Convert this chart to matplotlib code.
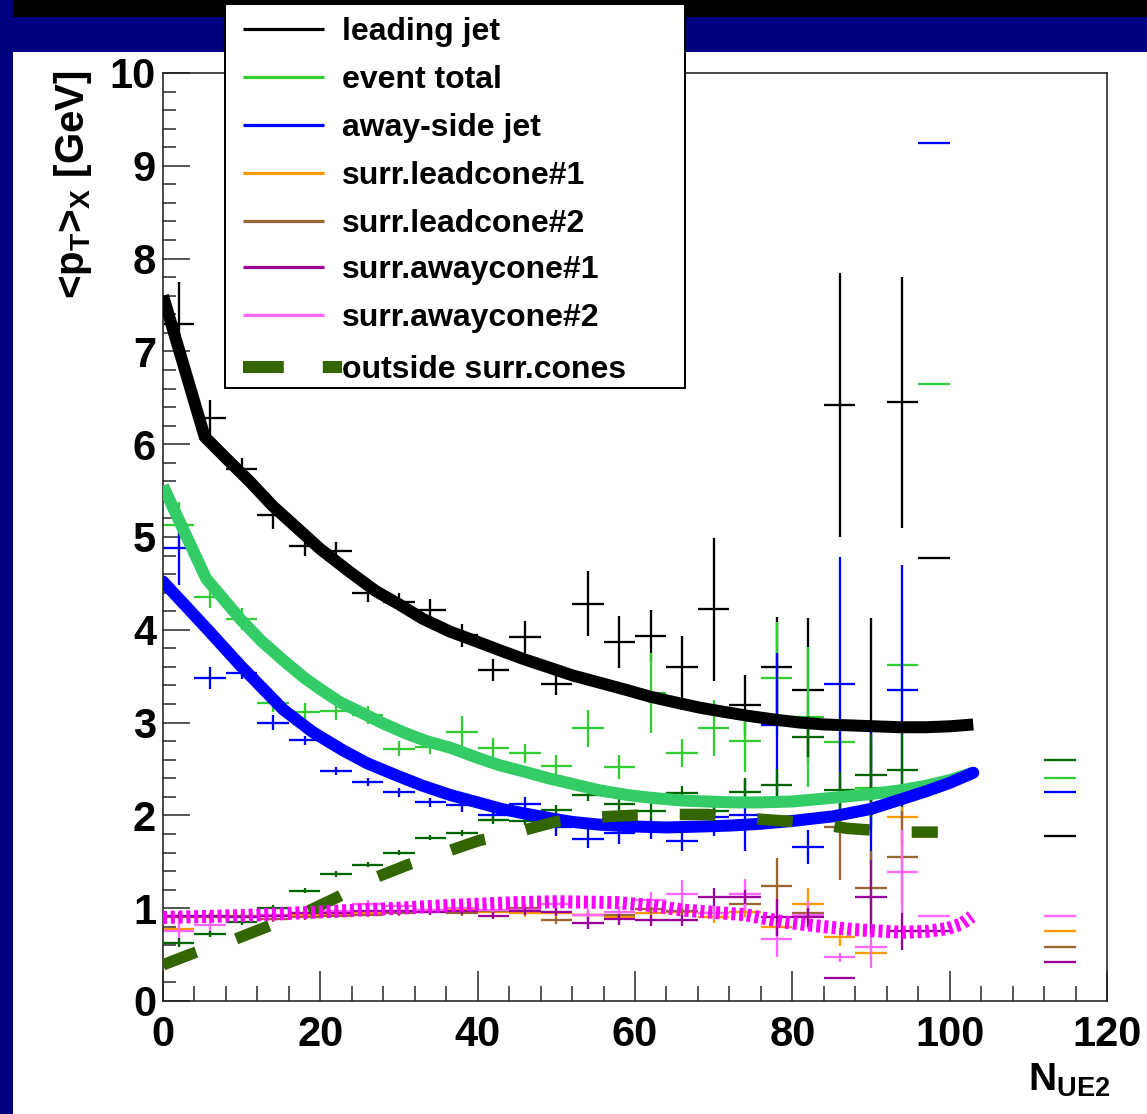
import numpy as np
import matplotlib
matplotlib.use("Agg")
import matplotlib.pyplot as plt
from matplotlib.ticker import MultipleLocator, FixedLocator
from matplotlib.patches import Rectangle

# ---------------- data ----------------
x_centers = [2, 6, 10, 14, 18, 22, 26, 30, 34, 38, 42, 46, 50, 54, 58, 62, 66, 70,
             74, 78, 82, 86, 90, 94, 98, 114]
bin_half = 2

nan = float("nan")
leading_y = [7.3, 6.28, 5.73, 5.24, 4.9, 4.85, 4.4, 4.3, 4.21, 3.94, 3.57, 3.92, 3.42,
             4.28, 3.87, 3.93, 3.6, 4.22, 3.19, 3.6, 3.35, 6.42, 3.0, 6.45, 4.77, 1.78]
leading_e = [0.45, 0.2, 0.12, 0.15, 0.1, 0.1, 0.1, 0.1, 0.12, 0.12, 0.12, 0.17, 0.12,
             0.35, 0.28, 0.28, 0.33, 0.77, 0.32, 0.54, 0.78, 1.42, 1.13, 1.35, 0, 0]

total_y = [5.13, 4.35, 4.12, 3.21, 3.11, 3.13, 3.08, 2.72, 2.74, 2.9, 2.73, 2.67, 2.53,
           2.94, 2.52, 3.32, 2.67, 2.94, 2.8, 3.48, 3.06, 2.79, 2.3, 3.62, 6.65, 2.4]
total_e = [0.25, 0.12, 0.12, 0.1, 0.1, 0.1, 0.1, 0.08, 0.08, 0.17, 0.1, 0.1, 0.12,
           0.2, 0.13, 0.43, 0.15, 0.3, 0.33, 0.6, 0.75, 0.3, 0.5, 0.7, 0, 0]

away_y = [4.88, 3.48, 3.53, 3.0, 2.81, 2.48, 2.36, 2.25, 2.14, 2.11, 2.0, 2.12, 1.88,
          1.75, 1.81, 1.85, 1.72, 1.98, 2.0, 2.97, 1.66, 3.42, 2.25, 3.35, 9.25, 2.25]
away_e = [0.4, 0.12, 0.06, 0.08, 0.05, 0.04, 0.04, 0.05, 0.05, 0.07, 0.06, 0.08, 0.1,
          0.1, 0.12, 0.1, 0.1, 0.2, 0.38, 0.78, 0.18, 1.36, 0.73, 1.35, 0, 0]

lead1_y = [0.78, 0.9, 0.92, 0.92, 0.93, 0.93, 0.95, 0.96, 0.98, 0.98, 0.96, 0.95, 0.95,
           0.93, 0.9, 0.95, 0.96, 0.9, 0.96, 0.8, 1.05, 0.69, 0.52, 1.98, nan, 0.75]
lead1_e = [0.04, 0.03, 0.03, 0.03, 0.03, 0.03, 0.03, 0.03, 0.03, 0.03, 0.03, 0.04, 0.04,
           0.04, 0.05, 0.05, 0.05, 0.06, 0.06, 0.1, 0.17, 0.1, 0.1, 0.3, 0, 0]

lead2_y = [0.9, 0.9, 0.92, 0.88, 0.9, 0.92, 0.93, 0.95, 0.97, 0.95, 0.97, 1.0, 0.87,
           0.93, 0.93, 0.99, 0.97, 0.95, 1.04, 1.24, 0.95, 1.88, 1.22, 1.55, nan, 0.58]
lead2_e = [0.04, 0.03, 0.03, 0.03, 0.03, 0.03, 0.03, 0.03, 0.03, 0.03, 0.03, 0.04, 0.04,
           0.04, 0.05, 0.05, 0.05, 0.06, 0.06, 0.3, 0.1, 0.58, 0.4, 0.5, 0, 0]

away1_y = [0.92, 0.92, 0.9, 0.92, 0.95, 0.95, 0.97, 0.97, 0.96, 0.97, 0.92, 0.97, 0.96,
           0.84, 0.88, 0.87, 0.87, 1.12, 1.12, 0.9, 0.9, 0.25, 1.12, 0.75, 0.75, 0.42]
away1_e = [0.04, 0.03, 0.03, 0.03, 0.03, 0.03, 0.03, 0.03, 0.03, 0.03, 0.04, 0.04, 0.04,
           0.06, 0.06, 0.06, 0.06, 0.1, 0.08, 0.2, 0.1, 0, 0.4, 0.2, 0, 0]

away2_y = [0.75, 0.82, 0.9, 0.93, 0.95, 0.97, 1.05, 1.02, 0.98, 1.0, 0.98, 0.98, 1.05,
           0.93, 0.96, 1.09, 1.15, 0.95, 1.15, 0.67, 0.93, 0.47, 0.58, 1.39, 0.92, 0.92]
away2_e = [0.16, 0.08, 0.05, 0.04, 0.04, 0.04, 0.04, 0.04, 0.04, 0.04, 0.05, 0.05, 0.05,
           0.06, 0.06, 0.08, 0.15, 0.08, 0.17, 0.2, 0.15, 0.05, 0.22, 0.45, 0, 0]

outside_y = [0.63, 0.72, 0.85, 1.0, 1.19, 1.37, 1.47, 1.6, 1.76, 1.81, 1.95, 1.94, 2.06,
             2.22, 2.12, 2.05, 2.24, 2.05, 2.25, 2.33, 2.85, 2.27, 2.43, 2.49, nan, 2.6]
outside_e = [0.05, 0.03, 0.03, 0.03, 0.03, 0.03, 0.03, 0.03, 0.03, 0.03, 0.04, 0.04, 0.05,
             0.07, 0.08, 0.1, 0.08, 0.15, 0.15, 0.17, 0.22, 0.2, 0.45, 0.4, 0, 0]

# fitted curves
fit_lead_x = [0, 5.3, 8, 11, 14, 17.4, 20, 23.8, 27, 30.1, 33, 36.5, 40, 42.8, 46, 49.2,
              52, 55.5, 59, 61.9, 65, 68.3, 71, 74.6, 78, 81, 84, 87.3, 90.5, 93.7, 97,
              100, 103]
fit_lead_y = [7.6, 6.08, 5.85, 5.6, 5.33, 5.07, 4.87, 4.62, 4.42, 4.27, 4.12, 3.98, 3.87,
              3.78, 3.68, 3.59, 3.51, 3.43, 3.35, 3.28, 3.22, 3.16, 3.12, 3.07, 3.03, 3.0,
              2.98, 2.97, 2.96, 2.95, 2.95, 2.96, 2.98]

fit_total_x = [0, 5.5, 8, 10, 12.5, 15.3, 18, 20, 22.5, 25.4, 28, 31, 33.5, 36.5, 40,
               42.8, 46, 49, 52, 55.5, 59, 62, 66, 69, 72.5, 76, 80, 85.2, 90, 93.7, 97,
               100, 103]
fit_total_y = [5.55, 4.55, 4.3, 4.1, 3.88, 3.67, 3.48, 3.36, 3.22, 3.1, 2.99, 2.88, 2.8,
               2.73, 2.62, 2.54, 2.47, 2.4, 2.34, 2.27, 2.22, 2.19, 2.16, 2.15, 2.14, 2.14,
               2.15, 2.19, 2.23, 2.27, 2.32, 2.38, 2.46]

fit_away_x = [0, 5.7, 10, 15.3, 19, 22.9, 26, 30, 33, 36.5, 40, 43, 46, 49.2, 52, 55.5,
              60, 64, 68.3, 72, 76, 80, 85.2, 90, 93.7, 97, 100, 103]
fit_away_y = [4.52, 4.0, 3.6, 3.14, 2.9, 2.7, 2.56, 2.42, 2.32, 2.22, 2.14, 2.07, 2.02,
              1.97, 1.93, 1.9, 1.88, 1.87, 1.88, 1.89, 1.91, 1.94, 1.99, 2.07, 2.17, 2.26,
              2.35, 2.46]

fit_out_x = [0, 4, 9, 13.2, 18, 22.2, 27, 31.2, 35.7, 40.2, 45, 49.8, 54.7, 59.6, 64.5,
             69.3, 72.4, 77.3, 82.4, 87, 93.7, 98.5]
fit_out_y = [0.39, 0.52, 0.66, 0.8, 0.95, 1.12, 1.33, 1.47, 1.6, 1.73, 1.82, 1.93, 1.98,
             2.0, 2.01, 2.01, 1.98, 1.95, 1.92, 1.86, 1.82, 1.82]

fit_aw2_x = [0, 10, 20, 30, 36.5, 45, 50, 57.7, 62, 66, 70.8, 74, 79, 83, 87.7, 94, 97,
             99.7, 101.5, 102.8]
fit_aw2_y = [0.9, 0.92, 0.96, 1.0, 1.03, 1.06, 1.07, 1.06, 1.03, 0.98, 0.95, 0.93, 0.85,
             0.81, 0.77, 0.74, 0.75, 0.78, 0.83, 0.91]

legend_labels = ["leading jet", "event total", "away-side jet", "surr.leadcone#1",
                 "surr.leadcone#2", "surr.awaycone#1", "surr.awaycone#2",
                 "outside surr.cones"]
legend_colors = ["#000000", "#33cc33", "#0000ff", "#ff9900", "#996633", "#990099",
                 "#ff66ff", "#336600"]

x_ticks = [0, 20, 40, 60, 80, 100, 120]
y_ticks = [0, 1, 2, 3, 4, 5, 6, 7, 8, 9, 10]

# ---------------- style ----------------
plt.rcParams["font.family"] = ["Liberation Sans", "DejaVu Sans"]
plt.rcParams["font.weight"] = "bold"
plt.rcParams["mathtext.fontset"] = "custom"
plt.rcParams["mathtext.rm"] = "Liberation Sans:bold"
plt.rcParams["mathtext.it"] = "Liberation Sans:bold"
plt.rcParams["mathtext.bf"] = "Liberation Sans:bold"
plt.rcParams["mathtext.sf"] = "Liberation Sans:bold"
plt.rcParams["mathtext.default"] = "rm"

W, H = 1147, 1114
fig = plt.figure(figsize=(W / 100, H / 100), dpi=100, facecolor="white")
PX = 0.72  # points per pixel


def fx(px):
    return px / W


def fy(py):
    return 1 - py / H


# background frame (navy slide background)
fig.patches.append(Rectangle((0, fy(52)), 1, fy(17) - fy(52), transform=fig.transFigure,
                             facecolor="#000080", edgecolor="none", zorder=0))
fig.patches.append(Rectangle((0, fy(17)), 1, 1 - fy(17), transform=fig.transFigure,
                             facecolor="#000000", edgecolor="none", zorder=0))
fig.patches.append(Rectangle((0, 0), fx(12.5), 1, transform=fig.transFigure,
                             facecolor="#000080", edgecolor="none", zorder=0))

ax = fig.add_axes([fx(163), fy(1001), fx(1107) - fx(163), fy(73) - fy(1001)])
ax.set_facecolor("white")
ax.set_xlim(0, 120)
ax.set_ylim(0, 10)

xc = np.array(x_centers, dtype=float)
series = [
    (leading_y, leading_e, "#000000"),
    (total_y, total_e, "#33cc33"),
    (away_y, away_e, "#0000ff"),
    (lead1_y, lead1_e, "#ff9900"),
    (lead2_y, lead2_e, "#996633"),
    (away2_y, away2_e, "#ff66ff"),
    (away1_y, away1_e, "#990099"),
    (outside_y, outside_e, "#006600"),
]
for i, (yv, ev, col) in enumerate(series):
    ax.errorbar(xc, np.array(yv, dtype=float), xerr=bin_half,
                yerr=np.array(ev, dtype=float), fmt="none", ecolor=col,
                elinewidth=2.3 * PX, capsize=0, zorder=2 + i * 0.1)

# fit curves
ax.plot(fit_lead_x, fit_lead_y, color="#000000", lw=12 * PX, solid_capstyle="butt",
        zorder=5)
ax.plot(fit_total_x, fit_total_y, color="#33cc66", lw=12 * PX, solid_capstyle="butt",
        zorder=6)
ax.plot(fit_away_x, fit_away_y, color="#0000ff", lw=12 * PX, solid_capstyle="round",
        zorder=7)
ax.plot(fit_out_x, fit_out_y, color="#336600", lw=11.5 * PX, linestyle=(0, (3.1, 3.65)),
        dash_capstyle="butt", zorder=8)
ax.plot(fit_aw2_x, fit_aw2_y, color="#ff00ff", lw=13 * PX, linestyle=(0, (0.31, 0.29)),
        dash_capstyle="butt", zorder=9)

# axes styling (ROOT like)
for s in ax.spines.values():
    s.set_color("#222222")
    s.set_linewidth(1.6 * PX)
ax.xaxis.set_major_locator(FixedLocator(x_ticks))
ax.xaxis.set_minor_locator(MultipleLocator(4))
ax.yaxis.set_major_locator(FixedLocator(y_ticks))
ax.yaxis.set_minor_locator(MultipleLocator(0.2))
ax.set_xticklabels([str(t) for t in x_ticks])
ax.set_yticklabels([str(t) for t in y_ticks])
ax.tick_params(axis="x", which="major", direction="in", length=30 * PX, width=1.5 * PX,
               color="#222222", labelsize=30, pad=10, top=False)
ax.tick_params(axis="x", which="minor", direction="in", length=15 * PX, width=1.5 * PX,
               color="#222222", top=False)
ax.tick_params(axis="y", which="major", direction="in", length=27 * PX, width=1.5 * PX,
               color="#222222", labelsize=30, pad=5, right=False)
ax.tick_params(axis="y", which="minor", direction="in", length=13 * PX, width=1.5 * PX,
               color="#222222", right=False)
for lab in ax.get_xticklabels() + ax.get_yticklabels():
    lab.set_fontweight("bold")

# axis titles
fig.text(fx(73), fy(70), r"<p$_{T}$>$_{X}$ [GeV]", rotation=90, ha="center", va="top",
         fontsize=29, fontweight="bold", color="black")
fig.text(fx(1110), fy(1062), r"N$_{UE2}$", ha="right", va="top", fontsize=28,
         fontweight="bold", color="black")

# legend box
lx0, ly0, lx1, ly1 = 225, 4, 685, 388
lax = fig.add_axes([fx(lx0), fy(ly1), fx(lx1) - fx(lx0), fy(ly0) - fy(ly1)], zorder=20)
lax.set_xlim(0, lx1 - lx0)
lax.set_ylim(ly1 - ly0, 0)
lax.set_facecolor("white")
lax.set_xticks([])
lax.set_yticks([])
for s in lax.spines.values():
    s.set_color("black")
    s.set_linewidth(2 * PX)
entry_y = [25, 73, 121, 169, 217, 263, 311, 363]
for lab, col, yy in zip(legend_labels, legend_colors, entry_y):
    if lab.startswith("outside"):
        lax.plot([18, 117], [yy, yy], color=col, lw=12 * PX, linestyle=(0, (3.4, 3.25)),
                 dash_capstyle="butt")
    else:
        lax.plot([18, 99], [yy, yy], color=col, lw=3.2 * PX, solid_capstyle="butt")
    lax.text(117, yy + 11, lab, ha="left", va="baseline", fontsize=23,
             fontweight="bold", color="black")

fig.savefig("out.png", dpi=100, facecolor="white")
